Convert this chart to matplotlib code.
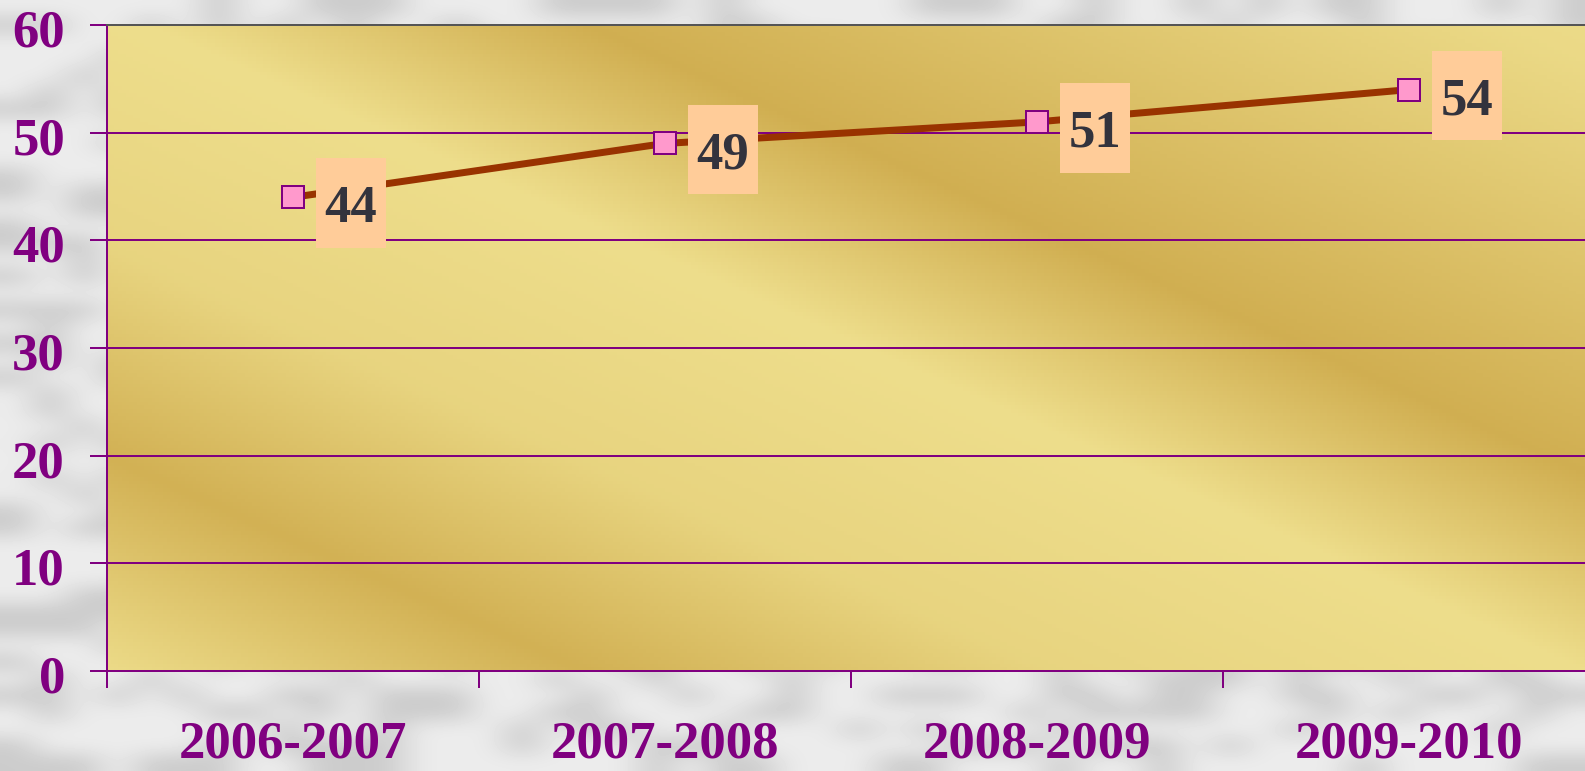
import numpy as np
import matplotlib
matplotlib.use("Agg")
import matplotlib.pyplot as plt
import matplotlib.transforms as mtransforms
from matplotlib.path import Path

seasons = ["2006-2007", "2007-2008", "2008-2009", "2009-2010"]
values = [44, 49, 51, 54]
yticks = [0, 10, 20, 30, 40, 50, 60]

PURPLE = "#800080"
W, H = 1585, 771
PX = 72 / 100  # points per pixel at dpi 100

fig = plt.figure(figsize=(W / 100, H / 100), dpi=100)

# grey blocky page texture (deterministic hash, decoration only)
bg = fig.add_axes([0, 0, 1, 1], zorder=-10)
cj, ci = np.meshgrid(np.arange(W // 34 + 1), np.arange(H // 17 + 1))
h = np.sin(ci * 12.9898 + cj * 78.233) * 43758.5453
h = h - np.floor(h)
tex = np.where(h > 0.62, 0.80, 0.925)
bg.imshow(tex, cmap="gray", vmin=0, vmax=1, aspect="auto",
          extent=[0, 1, 0, 1], interpolation="bicubic")
bg.axis("off")

left, bottom, top = 107 / W, 1 - 671 / H, 1 - 25 / H
ax = fig.add_axes([left, bottom, 1595 / W - left, top - bottom])

# golden diagonal-streak fill of the plot area
px_x, px_y = np.meshgrid(np.linspace(107, 1595, 400), np.linspace(25, 671, 180))
t = px_y - 0.45 * px_x
knots = [-760, -650, -240, -40, 200, 410, 640]
level = [1.0, 0.9, 0.05, 1.0, 0.8, 0.1, 1.0]
g = np.interp(t, knots, level)
light = np.array([238, 222, 140]) / 255
dark = np.array([207, 172, 78]) / 255
img = light * g[..., None] + dark * (1 - g[..., None])
ax.imshow(img, extent=[-0.5, 3.5, 0, 60], aspect="auto", origin="upper", zorder=0)

x = np.arange(len(seasons))
ax.plot(x, values, color="#993300", lw=7 * PX, zorder=3,
        marker="s", ms=23 * PX, mfc="#FF99CC", mec=PURPLE, mew=2 * PX)


def tall_box(x0, y0, w, hgt, mutation_size):
    sx, st, sb = 0.16 * mutation_size, 0.51 * mutation_size, 0.28 * mutation_size
    a, b = x0 - sx, y0 - sb
    c, d = x0 + w + sx, y0 + hgt + st
    return Path([(a, b), (c, b), (c, d), (a, d), (a, b)], closed=True)


for xi, v in zip(x, values):
    ax.annotate(str(v), (xi, v), xytext=(58, -25), textcoords="offset pixels",
                ha="center", va="baseline", fontsize=38, fontweight="bold",
                family="Liberation Serif", color="#33333d", zorder=5,
                bbox=dict(boxstyle=tall_box, fc="#FFCC99", ec="none"))

ax.set_xlim(-0.5, 3.5)
ax.set_ylim(0, 60)
ax.set_yticks(yticks)
ax.set_xticks(np.arange(-0.5, 4.0, 1.0))
ax.set_xticklabels([])
ax.set_xticks(x, minor=True)
ax.set_xticklabels(seasons, minor=True)
ax.tick_params(axis="x", which="minor", length=0, pad=49 * PX)
ax.tick_params(axis="x", which="major", length=17 * PX, width=2 * PX, color=PURPLE)
ax.tick_params(axis="y", length=17 * PX, width=2 * PX, color=PURPLE, pad=25 * PX)
shift = mtransforms.ScaledTranslation(0, -3 / 100, fig.dpi_scale_trans)
for lab in ax.get_yticklabels():
    lab.set_transform(lab.get_transform() + shift)
for lab in ax.get_yticklabels() + ax.get_xticklabels(minor=True):
    lab.set_family("Liberation Serif")
    lab.set_fontweight("bold")
    lab.set_fontsize(38)
    lab.set_color(PURPLE)

ax.grid(axis="y", color=PURPLE, lw=2 * PX)
for gl in ax.get_ygridlines():
    gl.set_zorder(1)
ax.spines["left"].set_color(PURPLE)
ax.spines["left"].set_linewidth(2 * PX)
ax.spines["bottom"].set_color(PURPLE)
ax.spines["bottom"].set_linewidth(2 * PX)
ax.spines["top"].set_color("#555555")
ax.spines["top"].set_linewidth(2 * PX)
ax.spines["right"].set_visible(False)

fig.savefig("out.png", dpi=100)
